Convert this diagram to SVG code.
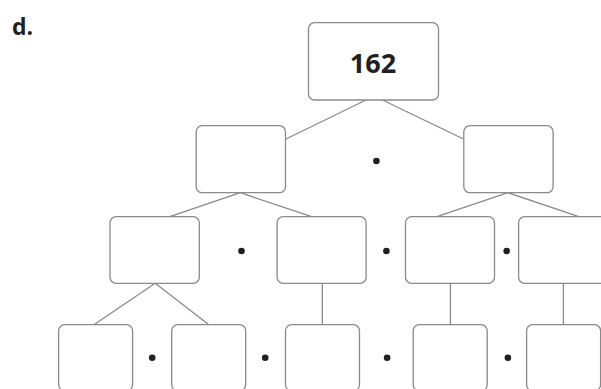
<svg xmlns="http://www.w3.org/2000/svg" width="601" height="389" viewBox="0 0 601 389">
<style>
.box{fill:#fff;stroke:#8a8a8a;stroke-width:1.3}
.ln{stroke:#8a8a8a;stroke-width:1.3;fill:none}
.dot{fill:#231f20}
.t{font-family:"Open Sans","Liberation Sans",sans-serif;font-weight:bold;fill:#231f20}
</style>
<rect width="601" height="389" fill="#fff"/>
<text class="t" x="12" y="35" font-size="23">d.</text>
<g id="connectors">
<line class="ln" x1="366" y1="100" x2="286" y2="139"/>
<line class="ln" x1="382.5" y1="100" x2="463.5" y2="139"/>
<line class="ln" x1="240.3" y1="192.7" x2="169.8" y2="216.7"/>
<line class="ln" x1="240.3" y1="192.7" x2="311.6" y2="216.7"/>
<line class="ln" x1="507.9" y1="192.7" x2="437" y2="216.7"/>
<line class="ln" x1="507.9" y1="192.7" x2="578.8" y2="216.7"/>
<line class="ln" x1="155.2" y1="283.3" x2="93.9" y2="324.7"/>
<line class="ln" x1="155.2" y1="283.3" x2="208.9" y2="324.7"/>
<line class="ln" x1="322.3" y1="283.3" x2="322.3" y2="324.7"/>
<line class="ln" x1="450.4" y1="283.3" x2="450.4" y2="324.7"/>
<line class="ln" x1="563.4" y1="283.3" x2="563.4" y2="324.7"/>
</g>
<g id="n162"><rect class="box" x="308.5" y="22.7" width="130" height="77.3" rx="6"/><text class="t" x="373" y="73.3" font-size="27" text-anchor="middle">162</text></g>
<g id="l2a"><rect class="box" x="196.2" y="125.7" width="89.3" height="67" rx="6"/></g>
<g id="l2b"><rect class="box" x="463.8" y="125.7" width="89.3" height="67" rx="6"/></g>
<g id="l3a"><rect class="box" x="110" y="216.7" width="89.3" height="66.6" rx="6"/></g>
<g id="l3b"><rect class="box" x="277.1" y="216.7" width="89" height="66.6" rx="6"/></g>
<g id="l3c"><rect class="box" x="405.5" y="216.7" width="89" height="66.6" rx="6"/></g>
<g id="l3d"><rect class="box" x="518.6" y="216.7" width="89" height="66.6" rx="6"/></g>
<g id="l4a"><rect class="box" x="58.6" y="324.7" width="74" height="66" rx="6"/></g>
<g id="l4b"><rect class="box" x="171.7" y="324.7" width="74" height="66" rx="6"/></g>
<g id="l4c"><rect class="box" x="285.5" y="324.7" width="74" height="66" rx="6"/></g>
<g id="l4d"><rect class="box" x="413.2" y="324.7" width="74" height="66" rx="6"/></g>
<g id="l4e"><rect class="box" x="526.6" y="324.7" width="74" height="66" rx="6"/></g>
<g id="dots">
<circle class="dot" cx="376.4" cy="161" r="3.3"/>
<circle class="dot" cx="241.5" cy="251" r="3.3"/>
<circle class="dot" cx="386.4" cy="251" r="3.3"/>
<circle class="dot" cx="506.7" cy="251" r="3.3"/>
<circle class="dot" cx="152.2" cy="357.7" r="3.3"/>
<circle class="dot" cx="265.2" cy="357.7" r="3.3"/>
<circle class="dot" cx="387.1" cy="357.7" r="3.3"/>
<circle class="dot" cx="507.9" cy="357.7" r="3.3"/>
</g>
</svg>
